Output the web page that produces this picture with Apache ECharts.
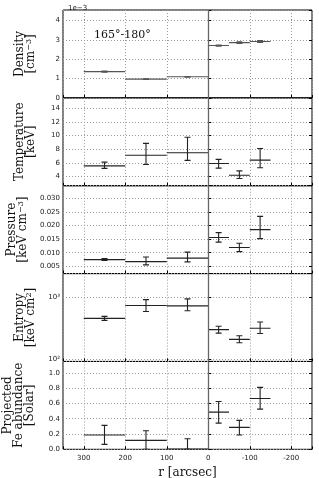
<!DOCTYPE html>
<html><head><meta charset="utf-8">
<script src="https://cdn.jsdelivr.net/npm/echarts@6/dist/echarts.min.js"></script>
<style>html,body{margin:0;padding:0;background:#fff}#c{width:319px;height:478px}</style>
</head><body><div id="c"></div>
<script>
// Radial bins [arcsec] (positive = one side, negative = other side)
const binLo = [300, 200, 100, 0, -50, -100];
const binHi = [200, 100, 0, -50, -100, -150];
// Density [1e-3 cm^-3]
const densVal = [1.36, 0.97, 1.09, 2.71, 2.86, 2.92];
const densLo  = [1.33, 0.95, 1.07, 2.68, 2.82, 2.87];
const densHi  = [1.39, 0.99, 1.11, 2.74, 2.90, 2.97];
// Temperature [keV]
const tempVal = [5.55, 7.10, 7.47, 5.90, 4.19, 6.40];
const tempLo  = [5.18, 5.76, 6.35, 5.22, 3.70, 5.27];
const tempHi  = [6.10, 8.85, 9.73, 6.50, 4.82, 8.10];
// Pressure [keV cm^-3]
const presVal = [0.00745, 0.0067, 0.0080, 0.0156, 0.0119, 0.0185];
const presLo  = [0.0071, 0.0055, 0.0066, 0.0139, 0.0104, 0.0152];
const presHi  = [0.0078, 0.0084, 0.0102, 0.0174, 0.0135, 0.0234];
// Entropy [keV cm^2]
const entVal = [453, 728, 720, 299, 208, 314];
const entLo  = [421, 585, 600, 262, 184, 259];
const entHi  = [488, 907, 930, 338, 238, 396];
// Projected Fe abundance [Solar]
const feVal = [0.187, 0.117, 0.003, 0.487, 0.287, 0.664];
const feLo  = [0.065, 0.0, 0.0, 0.343, 0.187, 0.526];
const feHi  = [0.313, 0.243, 0.138, 0.626, 0.378, 0.810];

const xTickStep = 100;
const panelNames = [
  '{a|Density}\n{a|[cm}{s|−3}{a|]}',
  '{a|Temperature}\n{a|[keV]}',
  '{a|Pressure}\n{a|[keV cm}{s|−3}{a|]}',
  '{a|Entropy}\n{a|[keV cm}{s|2}{a|]}',
  '{a|Projected}\n{a|Fe abundance}\n{a|[Solar]}'
];

const panels = [
  {val: densVal, lo: densLo, hi: densHi, min: 0, max: 4.55, type: 'value', step: 1, split: 5, dec: 0, color: '#555', gap: 27},
  {val: tempVal, lo: tempLo, hi: tempHi, min: 2.65, max: 15.5, type: 'value', step: 2, split: 7, dec: 0, color: '#222', gap: 27},
  {val: presVal, lo: presLo, hi: presHi, min: 0.0023, max: 0.0347, type: 'value', step: 0.005, split: 6, dec: 3, color: '#222', gap: 27},
  {val: entVal, lo: entLo, hi: entHi, min: 92, max: 2375, type: 'log', color: '#222', gap: 27},
  {val: feVal, lo: feLo, hi: feHi, min: 0, max: 1.15, type: 'value', step: 0.2, split: 6, dec: 1, color: '#222', gap: 28}
];

const gTop = 10, gH = 87.86, gLeft = 63, gRight = 7;
const serif = 'DejaVu Serif';
const sans = 'DejaVu Sans';
const richName = {
  a: {fontFamily: serif, fontSize: 12, color: '#111', lineHeight: 11},
  s: {fontFamily: serif, fontSize: 8, color: '#111', lineHeight: 11, verticalAlign: 'top', padding: [0, 0, 4, 0]}
};

const grids = [], xAxes = [], yAxes = [], series = [];
panels.forEach((p, i) => {
  grids.push({left: gLeft, right: gRight, top: gTop + i * gH, height: gH, show: true, borderColor: '#000', borderWidth: 1,
    backgroundColor: 'transparent', containLabel: false, outerBoundsMode: 'none'});
  const last = i === panels.length - 1;
  xAxes.push({
    type: 'value', gridIndex: i, min: -250, max: 350, inverse: true, splitNumber: 6,
    axisLine: {show: false},
    axisTick: {show: true, inside: true, length: 3, lineStyle: {color: '#000'}},
    axisLabel: {show: last, fontFamily: sans, fontSize: 7, color: '#222', margin: 5,
      formatter: v => (Math.abs(v % xTickStep) < 1e-6 ? String(v) : '')},
    splitLine: {show: true, lineStyle: {color: '#999', type: [1, 2], width: 1}},
    name: last ? 'r [arcsec]' : '', nameLocation: 'middle', nameGap: 18,
    nameTextStyle: {fontFamily: serif, fontSize: 12, color: '#111'}
  });
  const labelFmt = p.type === 'log'
    ? (v => (Math.abs(v - 100) < 1e-6 ? '10²' : Math.abs(v - 1000) < 1e-6 ? '10³' : ''))
    : (v => {
        const r = v / p.step;
        return Math.abs(r - Math.round(r)) < 1e-6 ? v.toFixed(p.dec) : '';
      });
  const yBase = {
    type: p.type, gridIndex: i, min: p.min, max: p.max, logBase: 10
  };
  if (p.split) yBase.splitNumber = p.split;
  yAxes.push(Object.assign({}, yBase, {
    position: 'left',
    axisLine: {show: false},
    axisTick: {show: true, inside: true, length: 3, lineStyle: {color: '#000'}},
    axisLabel: {fontFamily: sans, fontSize: 7, color: '#222', margin: 3, formatter: labelFmt},
    splitLine: {show: true, lineStyle: {color: '#999', type: [1, 2], width: 1}},
    name: panelNames[i], nameLocation: 'middle', nameRotate: 90, nameGap: p.gap,
    nameTextStyle: {rich: richName}
  }));
  const data = p.val.map((v, k) => [binLo[k], binHi[k], v, p.lo[k], p.hi[k]]);
  const col = p.color;
  series.push({
    type: 'custom', xAxisIndex: i, yAxisIndex: i, clip: true,
    encode: {x: [0, 1], y: [2, 3, 4]},
    data: data,
    renderItem: function (params, api) {
      const xlo = api.value(0), xhi = api.value(1), y = api.value(2), ylo = api.value(3), yhi = api.value(4);
      const xm = (xlo + xhi) / 2;
      const a = api.coord([xlo, y]), b = api.coord([xhi, y]);
      const m = api.coord([xm, y]);
      const pl = api.coord([xm, ylo]), ph = api.coord([xm, yhi]);
      const cap = 3;
      const st = {stroke: col, lineWidth: 1.1};
      return {type: 'group', children: [
        {type: 'line', shape: {x1: a[0], y1: a[1], x2: b[0], y2: b[1]}, style: st},
        {type: 'line', shape: {x1: m[0], y1: pl[1], x2: m[0], y2: ph[1]}, style: st},
        {type: 'line', shape: {x1: m[0] - cap, y1: pl[1], x2: m[0] + cap, y2: pl[1]}, style: st},
        {type: 'line', shape: {x1: m[0] - cap, y1: ph[1], x2: m[0] + cap, y2: ph[1]}, style: st}
      ]};
    },
    markLine: {
      silent: true, symbol: 'none', label: {show: false},
      lineStyle: {color: '#666', type: 'solid', width: 1.3},
      data: [{xAxis: 0}]
    },
    z: 3
  });
});
// right-side inward ticks (mirror axes)
panels.forEach((p, i) => {
  const ax = {type: p.type, gridIndex: i, min: p.min, max: p.max, logBase: 10, position: 'right',
    axisLine: {show: false}, axisLabel: {show: false}, splitLine: {show: false},
    axisTick: {show: true, inside: true, length: 3, lineStyle: {color: '#000'}}};
  if (p.split) ax.splitNumber = p.split;
  yAxes.push(ax);
});

const chart = echarts.init(document.getElementById('c'), null, {renderer: 'canvas'});
chart.setOption({
  animation: false,
  backgroundColor: '#fff',
  title: [
    {text: '165°-180°', left: 89, top: 25, textStyle: {fontFamily: serif, fontSize: 11, fontWeight: 'normal', color: '#111'}},
    {text: '1e−3', left: 63, top: 0, textStyle: {fontFamily: sans, fontSize: 7, fontWeight: 'normal', color: '#222'}}
  ],
  grid: grids, xAxis: xAxes, yAxis: yAxes, series: series
});
</script></body></html>
